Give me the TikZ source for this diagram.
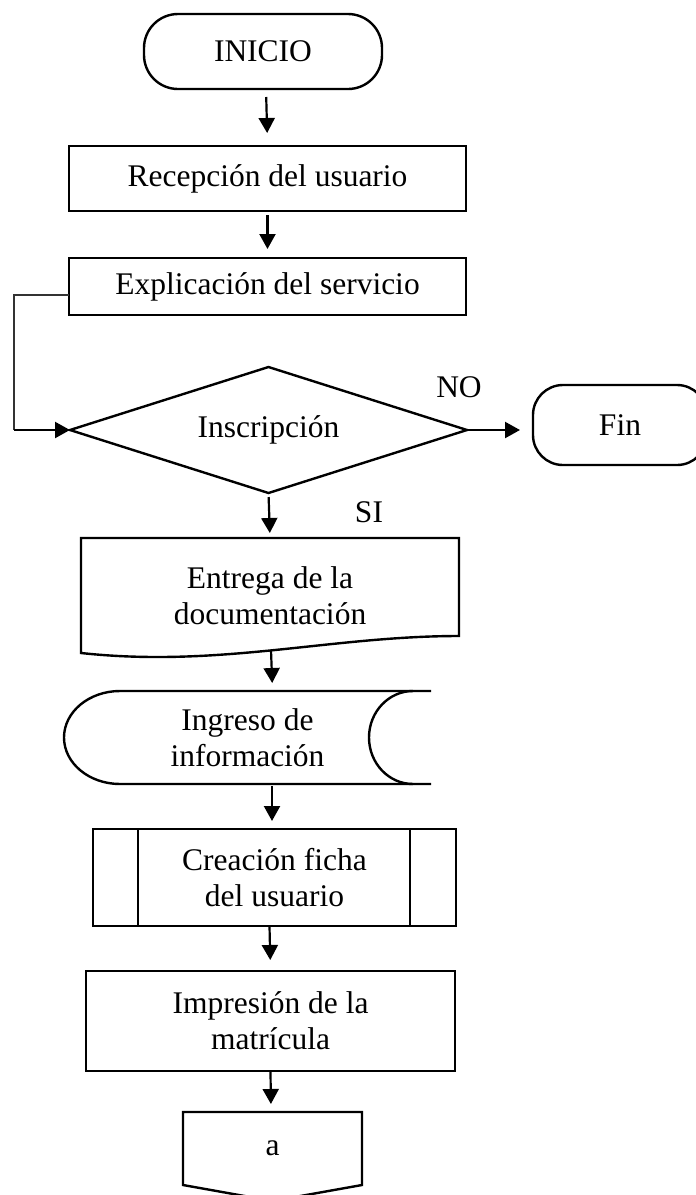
\documentclass[tikz,border=0pt]{standalone}
\usepackage{fontspec}
\setmainfont{Liberation Serif}
\usetikzlibrary{shapes.geometric,arrows.meta,calc}
\begin{document}
\begin{tikzpicture}[x=1pt,y=-1pt,
  every node/.style={font=\fontsize{31.5}{36}\selectfont, inner sep=0pt, outer sep=0pt, align=center},
  shp/.style={line width=2.4pt, line join=miter},
  term/.style={draw, shp, rounded corners=34pt},
  procbox/.style={draw, shp, rectangle},
  decis/.style={draw, shp, diamond, shape aspect=3.15},
  arr/.style={line width=2.2pt, -{Triangle[length=15pt,width=16pt]}},
  thinline/.style={line width=1.2pt, black!80}
]
\useasboundingbox (0,0) rectangle (696,1195);
\clip (0,0) rectangle (696,1195);

% nodes
\node[term, minimum width=238pt, minimum height=75pt] (ini) at (263,51.5) {INICIO};
\node[procbox, minimum width=397pt, minimum height=65pt] (rec) at (267.5,178.5) {Recepción del usuario};
\node[procbox, minimum width=397pt, minimum height=57pt] (expl) at (267.5,286.5) {Explicación del servicio};
\node[decis, minimum width=397pt, minimum height=126pt] (dia) at (268.5,430) {Inscripción};
\node[term, rounded corners=30pt, minimum width=174pt, minimum height=80pt] (fin) at (620,425) {Fin};
\node (no) at (459,387) {NO};
\node (si) at (369,512) {SI};
\node[minimum width=378pt, minimum height=115pt] (ent) at (270,595.5) {Entrega de la\\documentación};
\node[minimum width=367pt, minimum height=93pt] (ing) at (247.5,737.5) {Ingreso de\\información};
\node[procbox, minimum width=363pt, minimum height=97pt] (cre) at (274.5,877.5) {Creación ficha\\del usuario};
\node[procbox, minimum width=369pt, minimum height=100pt] (imp) at (270.5,1021) {Impresión de la\\matrícula};
\node[minimum width=179pt, minimum height=73pt] (off) at (272.5,1148.5) {a};
\coordinate (lp) at (14,430);

% document shape
\draw[shp] (ent.north west) -- (ent.north east) -- ($(ent.north east)+(0,98)$)
  .. controls ($(ent.north east)+(-129,98)$) and ($(ent.south west)+(139,15)$) .. (ent.south west) -- cycle;

% stored data shape
\draw[shp] (ing.north east) -- ($(ing.north west)+(56,0)$)
  .. controls ($(ing.north west)+(25.1,0)$) and ($(ing.west)+(0,-25.7)$) .. (ing.west)
  .. controls ($(ing.west)+(0,25.7)$) and ($(ing.south west)+(25.1,0)$) .. ($(ing.south west)+(56,0)$)
  -- (ing.south east);
\draw[shp] ($(ing.north east)+(-18,0)$)
  .. controls ($(ing.north east)+(-42.3,0)$) and ($(ing.east)+(-62,-25.7)$) .. ($(ing.east)+(-62,0)$)
  .. controls ($(ing.east)+(-62,25.7)$) and ($(ing.south east)+(-42.3,0)$) .. ($(ing.south east)+(-18,0)$);

% predefined process inner lines
\draw[shp] ($(cre.north west)+(45,0)$) -- ($(cre.south west)+(45,0)$);
\draw[shp] ($(cre.north east)+(-46,0)$) -- ($(cre.south east)+(-46,0)$);

% off-page connector
\draw[shp] (off.north west) -- (off.north east) -- (off.south east) -- ($(off.south)+(0,16)$) -- (off.south west) -- cycle;

% connectors
\draw[arr, shorten <=8pt, shorten >=13pt] ($(ini.south)+(3,0)$) -- (rec.north);
\draw[arr, shorten <=4pt, shorten >=9pt] (rec.south) -- (expl.north);
\draw[thinline] ($(expl.west)+(0,8.5)$) -| (lp);
\draw[arr] (lp) -- (dia.west);
\draw[arr, shorten >=13pt] (dia.east) -- (dia.east -| fin.west);
\draw[arr, shorten <=4pt, shorten >=5pt] (dia.south) -- (ent.north);
\draw[arr, shorten >=8pt] ($(ent.south)+(1,-3)$) -- ($(ing.north)+(25,0)$);
\draw[arr, shorten <=2pt, shorten >=8pt] ($(ing.south)+(24.5,0)$) -- ($(cre.north)+(-2.5,0)$);
\draw[arr, shorten >=11pt] ($(cre.south)+(-5,0)$) -- (imp.north);
\draw[arr, shorten >=8pt] (imp.south) -- ($(off.north)+(-1.5,0)$);
\end{tikzpicture}
\end{document}
